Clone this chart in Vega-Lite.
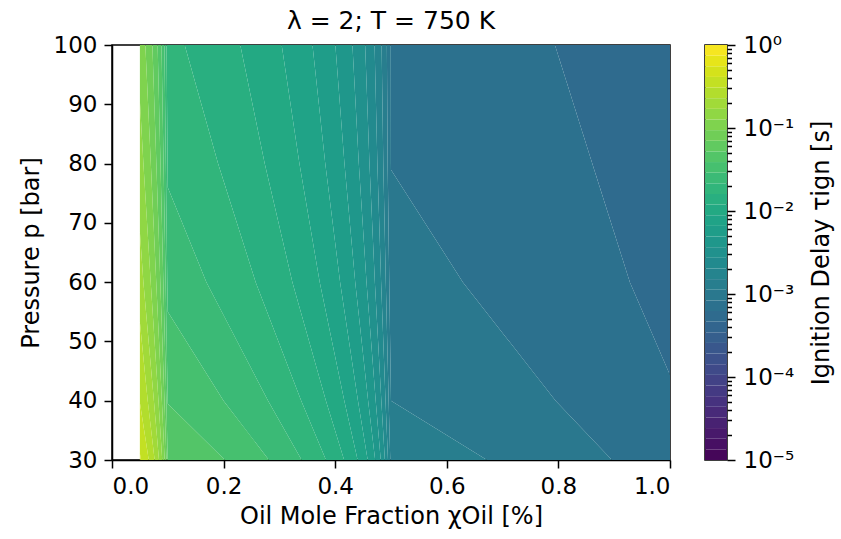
{
  "$schema": "https://vega.github.io/schema/vega-lite/v6.json",
  "padding": {"left": 18, "top": 8, "right": 0, "bottom": 0},
  "background": "white",
  "bounds": "flush",
  "spacing": 35,
  "config": {
    "font": "DejaVu Sans",
    "view": {"stroke": "black", "strokeWidth": 1.5},
    "axis": {"grid": false, "domainColor": "black", "domainWidth": 1.5, "tickColor": "black", "tickWidth": 1.5, "tickSize": 8, "labelFontSize": 23, "labelColor": "black", "titleFontSize": 24, "titleFontWeight": "normal", "titleColor": "black", "labelPadding": 7},
    "title": {"fontSize": 25, "fontWeight": "normal", "color": "black"}
  },
  "hconcat": [
    {
      "width": 558,
      "height": 415,
      "title": {"text": "λ = 2; T = 750 K", "offset": 0},
      "data": {"values": [
        {"band": 0, "p": 100, "x1": 0.7938, "x2": 1, "tau": 5.4386e-4},
        {"band": 0, "p": 80, "x1": 0.8607, "x2": 1, "tau": 5.4386e-4},
        {"band": 0, "p": 60, "x1": 0.9281, "x2": 1, "tau": 5.4386e-4},
        {"band": 0, "p": 44.34, "x1": 1, "x2": 1, "tau": 5.4386e-4},
        {"band": 1, "p": 100, "x1": 0.4996, "x2": 0.7938, "tau": 7.3063e-4},
        {"band": 1, "p": 80, "x1": 0.4999, "x2": 0.8607, "tau": 7.3063e-4},
        {"band": 1, "p": 78.97, "x1": 0.5, "x2": 0.8642, "tau": 7.3063e-4},
        {"band": 1, "p": 60, "x1": 0.6288, "x2": 0.9281, "tau": 7.3063e-4},
        {"band": 1, "p": 44.34, "x1": 0.7589, "x2": 1, "tau": 7.3063e-4},
        {"band": 1, "p": 40, "x1": 0.795, "x2": 1, "tau": 7.3063e-4},
        {"band": 1, "p": 30, "x1": 0.896, "x2": 1, "tau": 7.3063e-4},
        {"band": 2, "p": 100, "x1": 0.4926, "x2": 0.4996, "tau": 9.8152e-4},
        {"band": 2, "p": 80, "x1": 0.494, "x2": 0.4999, "tau": 9.8152e-4},
        {"band": 2, "p": 78.97, "x1": 0.4942, "x2": 0.5, "tau": 9.8152e-4},
        {"band": 2, "p": 60, "x1": 0.4969, "x2": 0.6288, "tau": 9.8152e-4},
        {"band": 2, "p": 40, "x1": 0.5, "x2": 0.795, "tau": 9.8152e-4},
        {"band": 2, "p": 30, "x1": 0.672, "x2": 0.896, "tau": 9.8152e-4},
        {"band": 3, "p": 100, "x1": 0.4832, "x2": 0.4926, "tau": 1.3185e-3},
        {"band": 3, "p": 80, "x1": 0.4862, "x2": 0.494, "tau": 1.3185e-3},
        {"band": 3, "p": 60, "x1": 0.4907, "x2": 0.4969, "tau": 1.3185e-3},
        {"band": 3, "p": 40, "x1": 0.4958, "x2": 0.5, "tau": 1.3185e-3},
        {"band": 3, "p": 30, "x1": 0.4987, "x2": 0.672, "tau": 1.3185e-3},
        {"band": 4, "p": 100, "x1": 0.4706, "x2": 0.4832, "tau": 1.7714e-3},
        {"band": 4, "p": 80, "x1": 0.4756, "x2": 0.4862, "tau": 1.7714e-3},
        {"band": 4, "p": 60, "x1": 0.4823, "x2": 0.4907, "tau": 1.7714e-3},
        {"band": 4, "p": 40, "x1": 0.4902, "x2": 0.4958, "tau": 1.7714e-3},
        {"band": 4, "p": 30, "x1": 0.4946, "x2": 0.4987, "tau": 1.7714e-3},
        {"band": 5, "p": 100, "x1": 0.4537, "x2": 0.4706, "tau": 2.3796e-3},
        {"band": 5, "p": 80, "x1": 0.4614, "x2": 0.4756, "tau": 2.3796e-3},
        {"band": 5, "p": 60, "x1": 0.4711, "x2": 0.4823, "tau": 2.3796e-3},
        {"band": 5, "p": 40, "x1": 0.4827, "x2": 0.4902, "tau": 2.3796e-3},
        {"band": 5, "p": 30, "x1": 0.489, "x2": 0.4946, "tau": 2.3796e-3},
        {"band": 6, "p": 100, "x1": 0.4309, "x2": 0.4537, "tau": 3.1968e-3},
        {"band": 6, "p": 80, "x1": 0.4423, "x2": 0.4614, "tau": 3.1968e-3},
        {"band": 6, "p": 60, "x1": 0.4561, "x2": 0.4711, "tau": 3.1968e-3},
        {"band": 6, "p": 40, "x1": 0.4726, "x2": 0.4827, "tau": 3.1968e-3},
        {"band": 6, "p": 30, "x1": 0.4816, "x2": 0.489, "tau": 3.1968e-3},
        {"band": 7, "p": 100, "x1": 0.4003, "x2": 0.4309, "tau": 4.2946e-3},
        {"band": 7, "p": 80, "x1": 0.4166, "x2": 0.4423, "tau": 4.2946e-3},
        {"band": 7, "p": 60, "x1": 0.4359, "x2": 0.4561, "tau": 4.2946e-3},
        {"band": 7, "p": 40, "x1": 0.459, "x2": 0.4726, "tau": 4.2946e-3},
        {"band": 7, "p": 30, "x1": 0.4716, "x2": 0.4816, "tau": 4.2946e-3},
        {"band": 8, "p": 100, "x1": 0.3593, "x2": 0.4003, "tau": 5.7694e-3},
        {"band": 8, "p": 80, "x1": 0.3822, "x2": 0.4166, "tau": 5.7694e-3},
        {"band": 8, "p": 60, "x1": 0.4088, "x2": 0.4359, "tau": 5.7694e-3},
        {"band": 8, "p": 40, "x1": 0.4408, "x2": 0.459, "tau": 5.7694e-3},
        {"band": 8, "p": 30, "x1": 0.4582, "x2": 0.4716, "tau": 5.7694e-3},
        {"band": 9, "p": 100, "x1": 0.3041, "x2": 0.3593, "tau": 7.7506e-3},
        {"band": 9, "p": 80, "x1": 0.3359, "x2": 0.3822, "tau": 7.7506e-3},
        {"band": 9, "p": 60, "x1": 0.3723, "x2": 0.4088, "tau": 7.7506e-3},
        {"band": 9, "p": 40, "x1": 0.4163, "x2": 0.4408, "tau": 7.7506e-3},
        {"band": 9, "p": 30, "x1": 0.4402, "x2": 0.4582, "tau": 7.7506e-3},
        {"band": 10, "p": 100, "x1": 0.2299, "x2": 0.3041, "tau": 1.0412e-2},
        {"band": 10, "p": 80, "x1": 0.2737, "x2": 0.3359, "tau": 1.0412e-2},
        {"band": 10, "p": 60, "x1": 0.3233, "x2": 0.3723, "tau": 1.0412e-2},
        {"band": 10, "p": 40, "x1": 0.3834, "x2": 0.4163, "tau": 1.0412e-2},
        {"band": 10, "p": 30, "x1": 0.416, "x2": 0.4402, "tau": 1.0412e-2},
        {"band": 11, "p": 100, "x1": 0.1303, "x2": 0.2299, "tau": 1.3988e-2},
        {"band": 11, "p": 80, "x1": 0.1901, "x2": 0.2737, "tau": 1.3988e-2},
        {"band": 11, "p": 60, "x1": 0.2575, "x2": 0.3233, "tau": 1.3988e-2},
        {"band": 11, "p": 40, "x1": 0.3391, "x2": 0.3834, "tau": 1.3988e-2},
        {"band": 11, "p": 30, "x1": 0.3835, "x2": 0.416, "tau": 1.3988e-2},
        {"band": 12, "p": 100, "x1": 0.0978, "x2": 0.1303, "tau": 1.8791e-2},
        {"band": 12, "p": 80, "x1": 0.0996, "x2": 0.1901, "tau": 1.8791e-2},
        {"band": 12, "p": 75.98, "x1": 0.1, "x2": 0.2037, "tau": 1.8791e-2},
        {"band": 12, "p": 60, "x1": 0.1692, "x2": 0.2575, "tau": 1.8791e-2},
        {"band": 12, "p": 40, "x1": 0.2797, "x2": 0.3391, "tau": 1.8791e-2},
        {"band": 12, "p": 30, "x1": 0.3399, "x2": 0.3835, "tau": 1.8791e-2},
        {"band": 13, "p": 100, "x1": 0.0939, "x2": 0.0978, "tau": 2.5244e-2},
        {"band": 13, "p": 80, "x1": 0.0965, "x2": 0.0996, "tau": 2.5244e-2},
        {"band": 13, "p": 75.98, "x1": 0.097, "x2": 0.1, "tau": 2.5244e-2},
        {"band": 13, "p": 60, "x1": 0.0991, "x2": 0.1692, "tau": 2.5244e-2},
        {"band": 13, "p": 55, "x1": 0.1, "x2": 0.1968, "tau": 2.5244e-2},
        {"band": 13, "p": 40, "x1": 0.1999, "x2": 0.2797, "tau": 2.5244e-2},
        {"band": 13, "p": 30, "x1": 0.2812, "x2": 0.3399, "tau": 2.5244e-2},
        {"band": 14, "p": 100, "x1": 0.0887, "x2": 0.0939, "tau": 3.3913e-2},
        {"band": 14, "p": 80, "x1": 0.0924, "x2": 0.0965, "tau": 3.3913e-2},
        {"band": 14, "p": 60, "x1": 0.0961, "x2": 0.0991, "tau": 3.3913e-2},
        {"band": 14, "p": 55, "x1": 0.097, "x2": 0.1, "tau": 3.3913e-2},
        {"band": 14, "p": 40, "x1": 0.0999, "x2": 0.1999, "tau": 3.3913e-2},
        {"band": 14, "p": 39.5, "x1": 0.1, "x2": 0.204, "tau": 3.3913e-2},
        {"band": 14, "p": 30, "x1": 0.2024, "x2": 0.2812, "tau": 3.3913e-2},
        {"band": 15, "p": 100, "x1": 0.0818, "x2": 0.0887, "tau": 4.5559e-2},
        {"band": 15, "p": 80, "x1": 0.0869, "x2": 0.0924, "tau": 4.5559e-2},
        {"band": 15, "p": 60, "x1": 0.092, "x2": 0.0961, "tau": 4.5559e-2},
        {"band": 15, "p": 40, "x1": 0.0974, "x2": 0.0999, "tau": 4.5559e-2},
        {"band": 15, "p": 39.5, "x1": 0.0975, "x2": 0.1, "tau": 4.5559e-2},
        {"band": 15, "p": 30, "x1": 0.0999, "x2": 0.2024, "tau": 4.5559e-2},
        {"band": 16, "p": 100, "x1": 0.0724, "x2": 0.0818, "tau": 6.1203e-2},
        {"band": 16, "p": 80, "x1": 0.0795, "x2": 0.0869, "tau": 6.1203e-2},
        {"band": 16, "p": 60, "x1": 0.0866, "x2": 0.092, "tau": 6.1203e-2},
        {"band": 16, "p": 40, "x1": 0.094, "x2": 0.0974, "tau": 6.1203e-2},
        {"band": 16, "p": 30, "x1": 0.0976, "x2": 0.0999, "tau": 6.1203e-2},
        {"band": 17, "p": 100, "x1": 0.0598, "x2": 0.0724, "tau": 8.222e-2},
        {"band": 17, "p": 80, "x1": 0.0696, "x2": 0.0795, "tau": 8.222e-2},
        {"band": 17, "p": 60, "x1": 0.0793, "x2": 0.0866, "tau": 8.222e-2},
        {"band": 17, "p": 40, "x1": 0.0894, "x2": 0.094, "tau": 8.222e-2},
        {"band": 17, "p": 30, "x1": 0.0943, "x2": 0.0976, "tau": 8.222e-2},
        {"band": 18, "p": 100, "x1": 0.05, "x2": 0.0598, "tau": 0.11046},
        {"band": 18, "p": 90.56, "x1": 0.05, "x2": 0.0644, "tau": 0.11046},
        {"band": 18, "p": 80, "x1": 0.0563, "x2": 0.0696, "tau": 0.11046},
        {"band": 18, "p": 60, "x1": 0.0694, "x2": 0.0793, "tau": 0.11046},
        {"band": 18, "p": 40, "x1": 0.0833, "x2": 0.0894, "tau": 0.11046},
        {"band": 18, "p": 30, "x1": 0.09, "x2": 0.0943, "tau": 0.11046},
        {"band": 19, "p": 90.56, "x1": 0.05, "x2": 0.05, "tau": 0.14839},
        {"band": 19, "p": 80, "x1": 0.05, "x2": 0.0563, "tau": 0.14839},
        {"band": 19, "p": 68.43, "x1": 0.05, "x2": 0.0639, "tau": 0.14839},
        {"band": 19, "p": 60, "x1": 0.0563, "x2": 0.0694, "tau": 0.14839},
        {"band": 19, "p": 40, "x1": 0.0751, "x2": 0.0833, "tau": 0.14839},
        {"band": 19, "p": 30, "x1": 0.0842, "x2": 0.09, "tau": 0.14839},
        {"band": 20, "p": 68.43, "x1": 0.05, "x2": 0.05, "tau": 0.19935},
        {"band": 20, "p": 60, "x1": 0.05, "x2": 0.0563, "tau": 0.19935},
        {"band": 20, "p": 53.25, "x1": 0.05, "x2": 0.0626, "tau": 0.19935},
        {"band": 20, "p": 40, "x1": 0.064, "x2": 0.0751, "tau": 0.19935},
        {"band": 20, "p": 30, "x1": 0.0764, "x2": 0.0842, "tau": 0.19935},
        {"band": 21, "p": 53.25, "x1": 0.05, "x2": 0.05, "tau": 0.2678},
        {"band": 21, "p": 40, "x1": 0.05, "x2": 0.064, "tau": 0.2678},
        {"band": 21, "p": 39.66, "x1": 0.05, "x2": 0.0645, "tau": 0.2678},
        {"band": 21, "p": 30, "x1": 0.0659, "x2": 0.0764, "tau": 0.2678},
        {"band": 22, "p": 39.66, "x1": 0.05, "x2": 0.05, "tau": 0.35975},
        {"band": 22, "p": 31.11, "x1": 0.05, "x2": 0.0641, "tau": 0.35975},
        {"band": 22, "p": 30, "x1": 0.0518, "x2": 0.0659, "tau": 0.35975},
        {"band": 23, "p": 31.11, "x1": 0.05, "x2": 0.05, "tau": 0.48329},
        {"band": 23, "p": 30, "x1": 0.05, "x2": 0.0518, "tau": 0.48329}
      ]},
      "mark": {"type": "area", "orient": "horizontal", "clip": true},
      "encoding": {
        "y": {"field": "p", "type": "quantitative", "scale": {"domain": [30, 100], "nice": false, "zero": false},
              "axis": {"values": [30, 40, 50, 60, 70, 80, 90, 100], "title": "Pressure p [bar]", "titlePadding": 10}},
        "x": {"field": "x1", "type": "quantitative", "scale": {"domain": [0, 1], "nice": false},
              "axis": {"values": [0, 0.2, 0.4, 0.6, 0.8, 1], "format": ".1f", "title": "Oil Mole Fraction χOil [%]", "titlePadding": 6}},
        "x2": {"field": "x2"},
        "detail": {"field": "band", "type": "nominal"},
        "color": {"field": "tau", "type": "quantitative", "scale": {"type": "log", "domain": [1e-5, 1], "scheme": "viridis"}, "legend": null}
      }
    },
    {
      "width": 22,
      "height": 415,
      "data": {"values": [
        {"lo": 1e-5, "hi": 1.3434e-5, "c": 1.1717e-5},
        {"lo": 1.3434e-5, "hi": 1.8047e-5, "c": 1.5741e-5},
        {"lo": 1.8047e-5, "hi": 2.4245e-5, "c": 2.1146e-5},
        {"lo": 2.4245e-5, "hi": 3.2571e-5, "c": 2.8408e-5},
        {"lo": 3.2571e-5, "hi": 4.3755e-5, "c": 3.8164e-5},
        {"lo": 4.3755e-5, "hi": 5.878e-5, "c": 5.1264e-5},
        {"lo": 5.878e-5, "hi": 7.8965e-5, "c": 6.8874e-5},
        {"lo": 7.8965e-5, "hi": 1.0608e-4, "c": 9.2524e-5},
        {"lo": 1.0608e-4, "hi": 1.4251e-4, "c": 1.2428e-4},
        {"lo": 1.4251e-4, "hi": 1.9145e-4, "c": 1.6698e-4},
        {"lo": 1.9145e-4, "hi": 2.5719e-4, "c": 2.2432e-4},
        {"lo": 2.5719e-4, "hi": 3.4551e-4, "c": 3.0135e-4},
        {"lo": 3.4551e-4, "hi": 4.6416e-4, "c": 4.0484e-4},
        {"lo": 4.6416e-4, "hi": 6.2355e-4, "c": 5.4386e-4},
        {"lo": 6.2355e-4, "hi": 8.3768e-4, "c": 7.3063e-4},
        {"lo": 8.3768e-4, "hi": 1.1253e-3, "c": 9.8152e-4},
        {"lo": 1.1253e-3, "hi": 1.5118e-3, "c": 1.3185e-3},
        {"lo": 1.5118e-3, "hi": 2.0309e-3, "c": 1.7714e-3},
        {"lo": 2.0309e-3, "hi": 2.7283e-3, "c": 2.3796e-3},
        {"lo": 2.7283e-3, "hi": 3.6652e-3, "c": 3.1968e-3},
        {"lo": 3.6652e-3, "hi": 4.9239e-3, "c": 4.2946e-3},
        {"lo": 4.9239e-3, "hi": 6.6147e-3, "c": 5.7694e-3},
        {"lo": 6.6147e-3, "hi": 8.8862e-3, "c": 7.7506e-3},
        {"lo": 8.8862e-3, "hi": 1.1938e-2, "c": 1.0412e-2},
        {"lo": 1.1938e-2, "hi": 1.6037e-2, "c": 1.3988e-2},
        {"lo": 1.6037e-2, "hi": 2.1544e-2, "c": 1.8791e-2},
        {"lo": 2.1544e-2, "hi": 2.8943e-2, "c": 2.5244e-2},
        {"lo": 2.8943e-2, "hi": 3.8882e-2, "c": 3.3913e-2},
        {"lo": 3.8882e-2, "hi": 5.2233e-2, "c": 4.5559e-2},
        {"lo": 5.2233e-2, "hi": 7.017e-2, "c": 6.1203e-2},
        {"lo": 7.017e-2, "hi": 9.4267e-2, "c": 8.222e-2},
        {"lo": 9.4267e-2, "hi": 0.12664, "c": 0.11046},
        {"lo": 0.12664, "hi": 0.17013, "c": 0.14839},
        {"lo": 0.17013, "hi": 0.22855, "c": 0.19935},
        {"lo": 0.22855, "hi": 0.30703, "c": 0.2678},
        {"lo": 0.30703, "hi": 0.41246, "c": 0.35975},
        {"lo": 0.41246, "hi": 0.5541, "c": 0.48329},
        {"lo": 0.5541, "hi": 0.74438, "c": 0.64925},
        {"lo": 0.74438, "hi": 1, "c": 0.87219}
      ]},
      "encoding": {
        "x": {"datum": 0, "type": "quantitative", "scale": {"domain": [0, 1], "nice": false}, "axis": null},
        "x2": {"datum": 1}
      },
      "layer": [
        {
          "mark": {"type": "rect"},
          "encoding": {
            "y": {"field": "lo", "type": "quantitative", "scale": {"type": "log", "domain": [1e-5, 1], "nice": false},
                  "axis": {"orient": "right", "domain": false, "labelPadding": 8, "values": [1e-5, 1e-4, 1e-3, 1e-2, 1e-1, 1],
                           "labelExpr": "'10' + ['⁻⁵','⁻⁴','⁻³','⁻²','⁻¹','⁰'][round(log(datum.value)/LN10)+5]",
                           "title": "Ignition Delay τign [s]", "titleAngle": 270, "titleBaseline": "top", "titlePadding": 16}},
            "y2": {"field": "hi"},
            "color": {"field": "c", "type": "quantitative", "scale": {"type": "log", "domain": [1e-5, 1], "scheme": "viridis"}, "legend": null}
          }
        },
        {
          "mark": {"type": "rect", "opacity": 0},
          "encoding": {
            "y": {"field": "lo", "type": "quantitative",
                  "axis": {"orient": "right", "domain": false, "labels": false, "title": null, "tickSize": 4.5,
                           "values": [2e-5, 3e-5, 4e-5, 5e-5, 6e-5, 7e-5, 8e-5, 9e-5, 2e-4, 3e-4, 4e-4, 5e-4, 6e-4, 7e-4, 8e-4, 9e-4, 2e-3, 3e-3, 4e-3, 5e-3, 6e-3, 7e-3, 8e-3, 9e-3, 2e-2, 3e-2, 4e-2, 5e-2, 6e-2, 7e-2, 8e-2, 9e-2, 0.2, 0.3, 0.4, 0.5, 0.6, 0.7, 0.8, 0.9]}},
            "y2": {"field": "hi"}
          }
        }
      ],
      "resolve": {"axis": {"y": "independent"}}
    }
  ]
}
